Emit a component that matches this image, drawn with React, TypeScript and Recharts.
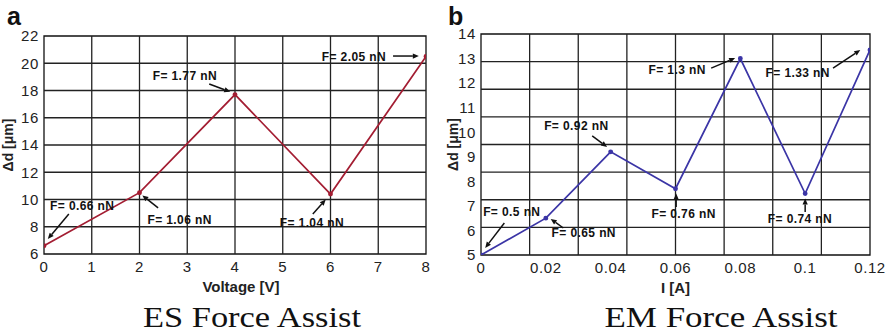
import React from 'react';
import { LineChart, Line, XAxis, YAxis, ReferenceLine, ReferenceDot, ReferenceArea } from 'recharts';

// ---- ES Force Assist (a) ----
const esVoltage = [0, 2, 4, 6, 8];
const esDelta = [6.6, 10.5, 17.7, 10.4, 20.5];
const esXTicks = [0, 1, 2, 3, 4, 5, 6, 7, 8];
const esYTicks = [6, 8, 10, 12, 14, 16, 18, 20, 22];
const esGridX = [1, 2, 3, 4, 5, 6, 7];
const esGridY = [8, 10, 12, 14, 16, 18, 20];
const esNotes = [
  { label: 'F= 0.66 nN', tx: 0.8, ty: 9.52, x1: 0.52, y1: 8.94, x2: 0.08, y2: 7.1 },
  { label: 'F= 1.06 nN', tx: 2.84, ty: 8.5, x1: 2.39, y1: 9.38, x2: 2.06, y2: 10.3 },
  { label: 'F= 1.77 nN', tx: 2.95, ty: 19.06, x1: 3.46, y1: 18.48, x2: 3.9, y2: 17.9 },
  { label: 'F= 1.04 nN', tx: 5.61, ty: 8.28, x1: 5.63, y1: 8.94, x2: 5.9, y2: 10.0 },
  { label: 'F= 2.05 nN', tx: 6.49, ty: 20.46, x1: 7.31, y1: 20.53, x2: 7.85, y2: 20.53 },
];

// ---- EM Force Assist (b) ----
const emCurrent = [0, 0.02, 0.04, 0.06, 0.08, 0.1, 0.12];
const emDelta = [5.0, 6.5, 9.2, 7.7, 13.0, 7.5, 13.35];
const emXTicks = [0, 0.02, 0.04, 0.06, 0.08, 0.1, 0.12];
const emYTicks = [5, 6, 7, 8, 9, 10, 11, 12, 13, 14];
const emGridX = [0.015, 0.03, 0.045, 0.06, 0.075, 0.09, 0.105];
const emGridY = [6.125, 7.25, 8.375, 9.5, 10.625, 11.75, 12.875];
const emNotes = [
  { label: 'F= 0.5 nN', tx: 0.0095, ty: 6.75, x1: 0.0072, y1: 6.3, x2: 0.0013, y2: 5.29 },
  { label: 'F= 0.65 nN', tx: 0.0317, ty: 5.9, x1: 0.0254, y1: 6.1, x2: 0.0215, y2: 6.47 },
  { label: 'F= 0.92 nN', tx: 0.0294, ty: 10.25, x1: 0.0343, y1: 9.85, x2: 0.0389, y2: 9.4 },
  { label: 'F= 0.76 nN', tx: 0.0625, ty: 6.67, x1: 0.0602, y1: 6.95, x2: 0.0602, y2: 7.5 },
  { label: 'F= 1.3 nN', tx: 0.0605, ty: 12.53, x1: 0.071, y1: 12.61, x2: 0.0784, y2: 13.02 },
  { label: 'F= 0.74 nN', tx: 0.0984, ty: 6.47, x1: 0.1, y1: 6.75, x2: 0.1, y2: 7.3 },
  { label: 'F= 1.33 nN', tx: 0.0977, ty: 12.41, x1: 0.1086, y1: 12.61, x2: 0.117, y2: 13.35 },
];

const esData = esVoltage.map((v, i) => ({ x: v, y: esDelta[i] }));
const emData = emCurrent.map((v, i) => ({ x: v, y: emDelta[i] }));

const SANS = 'Liberation Sans, Arial, Helvetica, sans-serif';
const SERIF = 'Liberation Serif, Times New Roman, serif';
const GRID = '#222';

const Arrow = (p: any) => {
  const { x1, y1, x2, y2 } = p;
  if ([x1, y1, x2, y2].some((v) => v == null || isNaN(v))) return null;
  const dx = x2 - x1;
  const dy = y2 - y1;
  const len = Math.sqrt(dx * dx + dy * dy) || 1;
  const ux = dx / len;
  const uy = dy / len;
  const hl = 6;
  const hw = 2.6;
  const bx = x2 - ux * hl;
  const by = y2 - uy * hl;
  const pts = `${x2},${y2} ${bx - uy * hw},${by + ux * hw} ${bx + uy * hw},${by - ux * hw}`;
  return (
    <g>
      <line x1={x1} y1={y1} x2={bx} y2={by} stroke="#111" strokeWidth={1.5} />
      <polygon points={pts} fill="#111" />
    </g>
  );
};

const noteText = (label: string) => (p: any) => (
  <text
    x={p.cx}
    y={p.cy}
    textAnchor="middle"
    dominantBaseline="central"
    fontFamily={SANS}
    fontWeight="bold"
    fontSize={12}
    letterSpacing={0.4}
    fill="#111"
  >
    {label}
  </text>
);

const tickStyle = { fontFamily: SANS, fontSize: 15, fill: '#222', letterSpacing: 0.6 };

interface PanelProps {
  data: { x: number; y: number }[];
  xTicks: number[];
  yTicks: number[];
  gridX: number[];
  gridY: number[];
  notes: typeof esNotes;
  color: string;
  letter: string;
  xLabel: string;
  xLabelShift: number;
  yLabelShift: number;
  title: string;
  titleLen: number;
  margin: { top: number; right: number; bottom: number; left: number };
  yAxisWidth: number;
}

const Panel = (pp: PanelProps) => {
  const xd: [number, number] = [pp.xTicks[0], pp.xTicks[pp.xTicks.length - 1]];
  const yd: [number, number] = [pp.yTicks[0], pp.yTicks[pp.yTicks.length - 1]];
  return (
    <div style={{ position: 'relative', width: 446, height: 335 }}>
      <LineChart width={446} height={335} data={pp.data} margin={pp.margin}>
        <XAxis
          dataKey="x"
          type="number"
          domain={xd}
          ticks={pp.xTicks}
          interval={0}
          allowDataOverflow
          tickLine={false}
          axisLine={false}
          tickSize={0}
          tickMargin={7}
          height={40}
          tick={tickStyle}
          label={(lp: any) => {
            const vb = lp.viewBox || {};
            return (
              <text
                x={vb.x + vb.width / 2 + pp.xLabelShift}
                y={vb.y + 38}
                textAnchor="middle"
                fontFamily={SANS}
                fontWeight="bold"
                fontSize={15}
                fill="#222"
              >
                {pp.xLabel}
              </text>
            );
          }}
        />
        <YAxis
          dataKey="y"
          type="number"
          domain={yd}
          ticks={pp.yTicks}
          interval={0}
          allowDataOverflow
          tickLine={false}
          axisLine={false}
          tickSize={0}
          tickMargin={5}
          width={pp.yAxisWidth}
          tick={tickStyle}
          label={(lp: any) => {
            const vb = lp.viewBox || {};
            const cx = vb.x + pp.yLabelShift;
            const cy = vb.y + vb.height / 2;
            return (
              <text
                x={cx}
                y={cy}
                transform={`rotate(-90 ${cx} ${cy})`}
                textAnchor="middle"
                dominantBaseline="central"
                fontFamily={SANS}
                fontWeight="bold"
                fontSize={14}
                fill="#222"
              >
                Δd [μm]
              </text>
            );
          }}
        />
        {pp.gridX.map((g) => (
          <ReferenceLine key={`gx${g}`} x={g} stroke={GRID} strokeWidth={1.3} />
        ))}
        {pp.gridY.map((g) => (
          <ReferenceLine key={`gy${g}`} y={g} stroke={GRID} strokeWidth={1.3} />
        ))}
        <ReferenceArea x1={xd[0]} x2={xd[1]} y1={yd[0]} y2={yd[1]} fill="none" stroke="#111" strokeWidth={1.3} />
        <Line
          dataKey="y"
          stroke={pp.color}
          strokeWidth={1.7}
          dot={{ r: 1.6, fill: pp.color, stroke: pp.color }}
          isAnimationActive={false}
        />
        {pp.notes.map((n) => (
          <ReferenceLine
            key={`a${n.label}`}
            segment={[
              { x: n.x1, y: n.y1 },
              { x: n.x2, y: n.y2 },
            ]}
            ifOverflow="visible"
            shape={Arrow}
          />
        ))}
        {pp.notes.map((n) => (
          <ReferenceDot key={`t${n.label}`} x={n.tx} y={n.ty} r={0} ifOverflow="visible" shape={noteText(n.label)} />
        ))}
      </LineChart>
      <svg width={446} height={335} style={{ position: 'absolute', left: 0, top: 0, pointerEvents: 'none' }}>
        <text x={pp.letter === 'a' ? 7 : 2} y={25} fontFamily={SANS} fontWeight="bold" fontSize={25} fill="#111">
          {pp.letter}
        </text>
        <text
          x={pp.letter === 'a' ? 252 : 275}
          y={327}
          textAnchor="middle"
          fontFamily={SERIF}
          fontSize={30}
          fill="#111"
          textLength={pp.titleLen}
          lengthAdjust="spacingAndGlyphs"
        >
          {pp.title}
        </text>
      </svg>
    </div>
  );
};

export default function App() {
  return (
    <div
      style={{
        position: 'absolute',
        left: 0,
        top: 0,
        width: 892,
        height: 335,
        background: '#fff',
        display: 'flex',
      }}
    >
      <Panel
        data={esData}
        xTicks={esXTicks}
        yTicks={esYTicks}
        gridX={esGridX}
        gridY={esGridY}
        notes={esNotes}
        color="#a31d32"
        letter="a"
        xLabel="Voltage [V]"
        xLabelShift={6}
        yLabelShift={4}
        title="ES Force Assist"
        titleLen={218}
        margin={{ top: 36, right: 20, bottom: 41, left: 4 }}
        yAxisWidth={40}
      />
      <Panel
        data={emData}
        xTicks={emXTicks}
        yTicks={emYTicks}
        gridX={emGridX}
        gridY={emGridY}
        notes={emNotes}
        color="#3b35a6"
        letter="b"
        xLabel="I [A]"
        xLabelShift={0}
        yLabelShift={2.5}
        title="EM Force Assist"
        titleLen={233}
        margin={{ top: 34, right: 22, bottom: 40, left: 4 }}
        yAxisWidth={31}
      />
    </div>
  );
}
